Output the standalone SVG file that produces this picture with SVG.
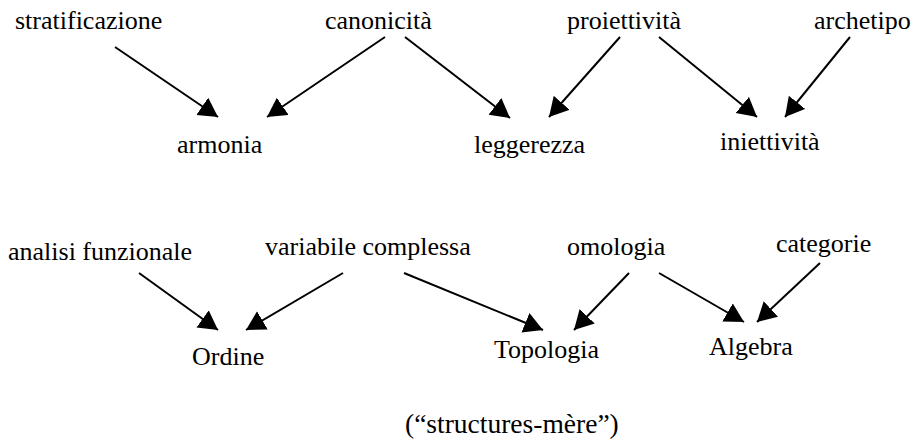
<svg xmlns="http://www.w3.org/2000/svg" width="917" height="445" viewBox="0 0 917 445">
<defs>
<marker id="ah" markerUnits="userSpaceOnUse" markerWidth="20" markerHeight="22" refX="19" refY="10.5" orient="auto">
<path d="M0,0 L19,10.5 L0,21 z" fill="#000"/>
</marker>
<style>
text{font-family:"Liberation Serif","Times New Roman",serif;font-size:26px;fill:#000}
.c line{stroke:#000;stroke-width:2;marker-end:url(#ah)}
</style>
</defs>
<rect width="917" height="445" fill="#fff"/>
<g id="n-stratificazione"><text x="15" y="29">stratificazione</text></g>
<g id="n-canonicita"><text x="325" y="29">canonicità</text></g>
<g id="n-proiettivita"><text x="567" y="29">proiettività</text></g>
<g id="n-archetipo"><text x="814" y="29">archetipo</text></g>
<g id="n-armonia"><text x="177" y="153">armonia</text></g>
<g id="n-leggerezza"><text x="474" y="153">leggerezza</text></g>
<g id="n-iniettivita"><text x="720" y="150">iniettività</text></g>
<g id="n-analisi"><text x="8" y="260">analisi funzionale</text></g>
<g id="n-variabile"><text x="265" y="255">variabile complessa</text></g>
<g id="n-omologia"><text x="567" y="255">omologia</text></g>
<g id="n-categorie"><text x="776" y="252">categorie</text></g>
<g id="n-ordine"><text x="192" y="365">Ordine</text></g>
<g id="n-topologia"><text x="494" y="358">Topologia</text></g>
<g id="n-algebra"><text x="709" y="355">Algebra</text></g>
<g id="caption"><text x="405" y="433" style="font-size:27.5px">(“structures-mère”)</text></g>
<g id="connectors" class="c">
<line x1="115" y1="47" x2="218" y2="117"/>
<line x1="385" y1="37" x2="267" y2="117"/>
<line x1="405" y1="37" x2="510" y2="118"/>
<line x1="620" y1="37" x2="549" y2="117"/>
<line x1="659" y1="37" x2="757" y2="117"/>
<line x1="850" y1="37" x2="785" y2="117"/>
<line x1="139" y1="273" x2="218" y2="330"/>
<line x1="343" y1="273" x2="246" y2="330"/>
<line x1="404" y1="273" x2="543" y2="330"/>
<line x1="629" y1="273" x2="574" y2="330"/>
<line x1="659" y1="273" x2="744" y2="322"/>
<line x1="820" y1="263" x2="757" y2="322"/>
</g>
</svg>
